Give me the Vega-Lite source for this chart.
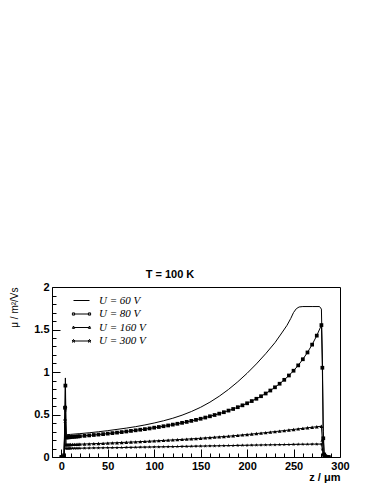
{
  "$schema": "https://vega.github.io/schema/vega-lite/v6.json",
  "autosize": {"type": "none"},
  "padding": {"left": 52, "top": 287, "right": 34, "bottom": 27},
  "width": 288,
  "height": 170,
  "background": "white",
  "title": {"text": "T = 100 K", "anchor": "middle", "dx": -26, "offset": 1, "font": "Liberation Sans", "fontSize": 11, "fontWeight": "bold", "color": "black"},
  "config": {
    "view": {"stroke": "black", "strokeWidth": 1},
    "axis": {"grid": false, "domain": false, "tickColor": "black", "tickWidth": 1, "labelColor": "black", "labelFont": "Liberation Sans", "labelFontSize": 11, "labelFontWeight": "bold", "titleColor": "black", "titleFont": "Liberation Sans", "labelOverlap": false, "labelBound": false, "labelFlush": false}
  },
  "data": {"values": [
    {"s":"U = 60 V","z":0,"m":0},{"s":"U = 60 V","z":2,"m":0},{"s":"U = 60 V","z":3,"m":0.02},{"s":"U = 60 V","z":4,"m":0.5},{"s":"U = 60 V","z":4.4,"m":0.93},{"s":"U = 60 V","z":5,"m":0.4},{"s":"U = 60 V","z":5.5,"m":0.262},{"s":"U = 60 V","z":10,"m":0.266},{"s":"U = 60 V","z":20,"m":0.275},{"s":"U = 60 V","z":30,"m":0.285},{"s":"U = 60 V","z":40,"m":0.297},{"s":"U = 60 V","z":50,"m":0.31},{"s":"U = 60 V","z":60,"m":0.325},{"s":"U = 60 V","z":70,"m":0.34},{"s":"U = 60 V","z":80,"m":0.357},{"s":"U = 60 V","z":90,"m":0.377},{"s":"U = 60 V","z":100,"m":0.4},{"s":"U = 60 V","z":110,"m":0.426},{"s":"U = 60 V","z":120,"m":0.456},{"s":"U = 60 V","z":130,"m":0.492},{"s":"U = 60 V","z":140,"m":0.535},{"s":"U = 60 V","z":150,"m":0.585},{"s":"U = 60 V","z":160,"m":0.645},{"s":"U = 60 V","z":170,"m":0.715},{"s":"U = 60 V","z":180,"m":0.795},{"s":"U = 60 V","z":190,"m":0.885},{"s":"U = 60 V","z":200,"m":0.985},{"s":"U = 60 V","z":210,"m":1.095},{"s":"U = 60 V","z":220,"m":1.215},{"s":"U = 60 V","z":230,"m":1.345},{"s":"U = 60 V","z":238,"m":1.47},{"s":"U = 60 V","z":243,"m":1.55},{"s":"U = 60 V","z":247,"m":1.63},{"s":"U = 60 V","z":250,"m":1.7},{"s":"U = 60 V","z":253,"m":1.745},{"s":"U = 60 V","z":256,"m":1.765},{"s":"U = 60 V","z":260,"m":1.77},{"s":"U = 60 V","z":270,"m":1.77},{"s":"U = 60 V","z":278,"m":1.77},{"s":"U = 60 V","z":280,"m":1.74},{"s":"U = 60 V","z":281,"m":1.2},{"s":"U = 60 V","z":282,"m":0.3},{"s":"U = 60 V","z":283,"m":0.03},{"s":"U = 60 V","z":285,"m":0},{"s":"U = 60 V","z":290,"m":0},

    {"s":"U = 80 V","z":0,"m":0},{"s":"U = 80 V","z":1,"m":0},{"s":"U = 80 V","z":2,"m":0.005},{"s":"U = 80 V","z":3,"m":0.02},{"s":"U = 80 V","z":4,"m":0.58},{"s":"U = 80 V","z":4.4,"m":0.84},{"s":"U = 80 V","z":5,"m":0.23},{"s":"U = 80 V","z":6,"m":0.231},{"s":"U = 80 V","z":7,"m":0.232},{"s":"U = 80 V","z":8,"m":0.232},{"s":"U = 80 V","z":9,"m":0.233},{"s":"U = 80 V","z":10,"m":0.235},{"s":"U = 80 V","z":12,"m":0.236},{"s":"U = 80 V","z":14,"m":0.238},{"s":"U = 80 V","z":16,"m":0.24},{"s":"U = 80 V","z":18,"m":0.242},{"s":"U = 80 V","z":20,"m":0.244},
    {"s":"U = 80 V","z":25,"m":0.249},{"s":"U = 80 V","z":30,"m":0.254},{"s":"U = 80 V","z":35,"m":0.259},{"s":"U = 80 V","z":40,"m":0.264},{"s":"U = 80 V","z":45,"m":0.269},{"s":"U = 80 V","z":50,"m":0.275},{"s":"U = 80 V","z":55,"m":0.281},{"s":"U = 80 V","z":60,"m":0.287},{"s":"U = 80 V","z":65,"m":0.293},{"s":"U = 80 V","z":70,"m":0.3},{"s":"U = 80 V","z":75,"m":0.307},{"s":"U = 80 V","z":80,"m":0.314},{"s":"U = 80 V","z":85,"m":0.321},{"s":"U = 80 V","z":90,"m":0.328},{"s":"U = 80 V","z":95,"m":0.336},{"s":"U = 80 V","z":100,"m":0.345},{"s":"U = 80 V","z":105,"m":0.353},{"s":"U = 80 V","z":110,"m":0.362},{"s":"U = 80 V","z":115,"m":0.371},{"s":"U = 80 V","z":120,"m":0.381},{"s":"U = 80 V","z":125,"m":0.391},{"s":"U = 80 V","z":130,"m":0.402},{"s":"U = 80 V","z":135,"m":0.413},{"s":"U = 80 V","z":140,"m":0.425},{"s":"U = 80 V","z":145,"m":0.437},{"s":"U = 80 V","z":150,"m":0.45},{"s":"U = 80 V","z":155,"m":0.464},{"s":"U = 80 V","z":160,"m":0.479},{"s":"U = 80 V","z":165,"m":0.494},{"s":"U = 80 V","z":170,"m":0.51},{"s":"U = 80 V","z":175,"m":0.527},{"s":"U = 80 V","z":180,"m":0.546},{"s":"U = 80 V","z":185,"m":0.565},{"s":"U = 80 V","z":190,"m":0.586},{"s":"U = 80 V","z":195,"m":0.608},{"s":"U = 80 V","z":200,"m":0.632},{"s":"U = 80 V","z":205,"m":0.658},{"s":"U = 80 V","z":210,"m":0.685},{"s":"U = 80 V","z":215,"m":0.715},{"s":"U = 80 V","z":220,"m":0.747},{"s":"U = 80 V","z":225,"m":0.782},{"s":"U = 80 V","z":230,"m":0.82},{"s":"U = 80 V","z":235,"m":0.862},{"s":"U = 80 V","z":240,"m":0.908},{"s":"U = 80 V","z":245,"m":0.959},{"s":"U = 80 V","z":250,"m":1.015},{"s":"U = 80 V","z":255,"m":1.078},{"s":"U = 80 V","z":260,"m":1.15},{"s":"U = 80 V","z":265,"m":1.23},{"s":"U = 80 V","z":270,"m":1.322},{"s":"U = 80 V","z":275,"m":1.428},{"s":"U = 80 V","z":280,"m":1.552},{"s":"U = 80 V","z":281,"m":1.05},{"s":"U = 80 V","z":282,"m":0.22},{"s":"U = 80 V","z":283,"m":0.03},{"s":"U = 80 V","z":284,"m":0.01},{"s":"U = 80 V","z":285,"m":0.003},{"s":"U = 80 V","z":286,"m":0},{"s":"U = 80 V","z":287,"m":0},{"s":"U = 80 V","z":288,"m":0},

    {"s":"U = 160 V","z":0,"m":0},{"s":"U = 160 V","z":1,"m":0},{"s":"U = 160 V","z":2,"m":0.003},{"s":"U = 160 V","z":3,"m":0.015},{"s":"U = 160 V","z":4,"m":0.45},{"s":"U = 160 V","z":4.4,"m":0.6},{"s":"U = 160 V","z":5,"m":0.145},{"s":"U = 160 V","z":6,"m":0.145},{"s":"U = 160 V","z":7,"m":0.146},{"s":"U = 160 V","z":8,"m":0.146},{"s":"U = 160 V","z":9,"m":0.146},{"s":"U = 160 V","z":10,"m":0.147},{"s":"U = 160 V","z":12,"m":0.148},{"s":"U = 160 V","z":14,"m":0.148},{"s":"U = 160 V","z":16,"m":0.149},{"s":"U = 160 V","z":18,"m":0.15},{"s":"U = 160 V","z":20,"m":0.151},
    {"s":"U = 160 V","z":25,"m":0.153},{"s":"U = 160 V","z":30,"m":0.155},{"s":"U = 160 V","z":35,"m":0.157},{"s":"U = 160 V","z":40,"m":0.159},{"s":"U = 160 V","z":45,"m":0.161},{"s":"U = 160 V","z":50,"m":0.164},{"s":"U = 160 V","z":55,"m":0.166},{"s":"U = 160 V","z":60,"m":0.168},{"s":"U = 160 V","z":65,"m":0.171},{"s":"U = 160 V","z":70,"m":0.173},{"s":"U = 160 V","z":75,"m":0.176},{"s":"U = 160 V","z":80,"m":0.178},{"s":"U = 160 V","z":85,"m":0.181},{"s":"U = 160 V","z":90,"m":0.184},{"s":"U = 160 V","z":95,"m":0.186},{"s":"U = 160 V","z":100,"m":0.189},{"s":"U = 160 V","z":105,"m":0.192},{"s":"U = 160 V","z":110,"m":0.195},{"s":"U = 160 V","z":115,"m":0.198},{"s":"U = 160 V","z":120,"m":0.201},{"s":"U = 160 V","z":125,"m":0.204},{"s":"U = 160 V","z":130,"m":0.207},{"s":"U = 160 V","z":135,"m":0.21},{"s":"U = 160 V","z":140,"m":0.214},{"s":"U = 160 V","z":145,"m":0.217},{"s":"U = 160 V","z":150,"m":0.221},{"s":"U = 160 V","z":155,"m":0.225},{"s":"U = 160 V","z":160,"m":0.229},{"s":"U = 160 V","z":165,"m":0.233},{"s":"U = 160 V","z":170,"m":0.237},{"s":"U = 160 V","z":175,"m":0.241},{"s":"U = 160 V","z":180,"m":0.245},{"s":"U = 160 V","z":185,"m":0.25},{"s":"U = 160 V","z":190,"m":0.255},{"s":"U = 160 V","z":195,"m":0.26},{"s":"U = 160 V","z":200,"m":0.265},{"s":"U = 160 V","z":205,"m":0.27},{"s":"U = 160 V","z":210,"m":0.276},{"s":"U = 160 V","z":215,"m":0.281},{"s":"U = 160 V","z":220,"m":0.287},{"s":"U = 160 V","z":225,"m":0.293},{"s":"U = 160 V","z":230,"m":0.299},{"s":"U = 160 V","z":235,"m":0.305},{"s":"U = 160 V","z":240,"m":0.311},{"s":"U = 160 V","z":245,"m":0.318},{"s":"U = 160 V","z":250,"m":0.324},{"s":"U = 160 V","z":255,"m":0.331},{"s":"U = 160 V","z":260,"m":0.337},{"s":"U = 160 V","z":265,"m":0.344},{"s":"U = 160 V","z":270,"m":0.35},{"s":"U = 160 V","z":275,"m":0.356},{"s":"U = 160 V","z":280,"m":0.362},{"s":"U = 160 V","z":281,"m":0.2},{"s":"U = 160 V","z":282,"m":0.04},{"s":"U = 160 V","z":283,"m":0.01},{"s":"U = 160 V","z":284,"m":0.003},{"s":"U = 160 V","z":285,"m":0},{"s":"U = 160 V","z":286,"m":0},{"s":"U = 160 V","z":287,"m":0},{"s":"U = 160 V","z":288,"m":0},

    {"s":"U = 300 V","z":0,"m":0},{"s":"U = 300 V","z":1,"m":0},{"s":"U = 300 V","z":2,"m":0.002},{"s":"U = 300 V","z":3,"m":0.01},{"s":"U = 300 V","z":4,"m":0.4},{"s":"U = 300 V","z":4.4,"m":0.55},{"s":"U = 300 V","z":5,"m":0.1},{"s":"U = 300 V","z":6,"m":0.1},{"s":"U = 300 V","z":7,"m":0.1},{"s":"U = 300 V","z":8,"m":0.101},{"s":"U = 300 V","z":9,"m":0.101},{"s":"U = 300 V","z":10,"m":0.101},{"s":"U = 300 V","z":12,"m":0.102},{"s":"U = 300 V","z":14,"m":0.102},{"s":"U = 300 V","z":16,"m":0.102},{"s":"U = 300 V","z":18,"m":0.103},{"s":"U = 300 V","z":20,"m":0.103},
    {"s":"U = 300 V","z":25,"m":0.104},{"s":"U = 300 V","z":30,"m":0.105},{"s":"U = 300 V","z":35,"m":0.106},{"s":"U = 300 V","z":40,"m":0.107},{"s":"U = 300 V","z":45,"m":0.108},{"s":"U = 300 V","z":50,"m":0.109},{"s":"U = 300 V","z":55,"m":0.109},{"s":"U = 300 V","z":60,"m":0.11},{"s":"U = 300 V","z":65,"m":0.111},{"s":"U = 300 V","z":70,"m":0.112},{"s":"U = 300 V","z":75,"m":0.113},{"s":"U = 300 V","z":80,"m":0.114},{"s":"U = 300 V","z":85,"m":0.115},{"s":"U = 300 V","z":90,"m":0.116},{"s":"U = 300 V","z":95,"m":0.117},{"s":"U = 300 V","z":100,"m":0.118},{"s":"U = 300 V","z":105,"m":0.119},{"s":"U = 300 V","z":110,"m":0.12},{"s":"U = 300 V","z":115,"m":0.121},{"s":"U = 300 V","z":120,"m":0.122},{"s":"U = 300 V","z":125,"m":0.123},{"s":"U = 300 V","z":130,"m":0.124},{"s":"U = 300 V","z":135,"m":0.125},{"s":"U = 300 V","z":140,"m":0.126},{"s":"U = 300 V","z":145,"m":0.127},{"s":"U = 300 V","z":150,"m":0.128},{"s":"U = 300 V","z":155,"m":0.129},{"s":"U = 300 V","z":160,"m":0.13},{"s":"U = 300 V","z":165,"m":0.131},{"s":"U = 300 V","z":170,"m":0.132},{"s":"U = 300 V","z":175,"m":0.133},{"s":"U = 300 V","z":180,"m":0.134},{"s":"U = 300 V","z":185,"m":0.135},{"s":"U = 300 V","z":190,"m":0.136},{"s":"U = 300 V","z":195,"m":0.137},{"s":"U = 300 V","z":200,"m":0.138},{"s":"U = 300 V","z":205,"m":0.139},{"s":"U = 300 V","z":210,"m":0.14},{"s":"U = 300 V","z":215,"m":0.141},{"s":"U = 300 V","z":220,"m":0.142},{"s":"U = 300 V","z":225,"m":0.143},{"s":"U = 300 V","z":230,"m":0.144},{"s":"U = 300 V","z":235,"m":0.145},{"s":"U = 300 V","z":240,"m":0.146},{"s":"U = 300 V","z":245,"m":0.147},{"s":"U = 300 V","z":250,"m":0.148},{"s":"U = 300 V","z":255,"m":0.149},{"s":"U = 300 V","z":260,"m":0.15},{"s":"U = 300 V","z":265,"m":0.15},{"s":"U = 300 V","z":270,"m":0.151},{"s":"U = 300 V","z":275,"m":0.151},{"s":"U = 300 V","z":280,"m":0.152},{"s":"U = 300 V","z":281,"m":0.09},{"s":"U = 300 V","z":282,"m":0.02},{"s":"U = 300 V","z":283,"m":0.005},{"s":"U = 300 V","z":284,"m":0},{"s":"U = 300 V","z":285,"m":0},{"s":"U = 300 V","z":286,"m":0},{"s":"U = 300 V","z":287,"m":0},{"s":"U = 300 V","z":288,"m":0}
  ]},
  "layer": [
    {
      "mark": {"type": "line", "color": "black", "strokeWidth": 1, "clip": true},
      "encoding": {
        "x": {"field": "z", "type": "quantitative", "scale": {"domain": [-10, 300], "nice": false, "zero": false},
          "axis": {
            "orient": "bottom",
            "values": [0, 50, 100, 150, 200, 250, 300],
            "format": "d",
            "tickSize": -8,
            "labelPadding": 11,
            "title": "z / μm", "titleAnchor": "end", "titleFontSize": 11, "titleFontWeight": "bold", "titlePadding": 0
          }
        },
        "y": {"field": "m", "type": "quantitative", "scale": {"domain": [0, 2], "nice": false},
          "axis": {
            "orient": "left",
            "values": [0, 0.5, 1, 1.5, 2],
            "format": "~g",
            "tickSize": -8,
            "labelPadding": 11,
            "title": "μ / m²/Vs", "titleAnchor": "end", "titleFontSize": 10, "titleFontWeight": "normal", "titlePadding": 14
          }
        },
        "detail": {"field": "s"}
      }
    },
    {
      "transform": [{"filter": "datum.s !== 'U = 60 V'"}],
      "mark": {"type": "point", "filled": true, "color": "black", "opacity": 1, "strokeWidth": 0, "clip": true},
      "encoding": {
        "x": {"field": "z", "type": "quantitative",
          "axis": {"orient": "bottom", "values": [-10,10,20,30,40,60,70,80,90,110,120,130,140,160,170,180,190,210,220,230,240,260,270,280,290], "tickSize": -4, "labels": false, "title": null}},
        "y": {"field": "m", "type": "quantitative",
          "axis": {"orient": "left", "values": [0.1,0.2,0.3,0.4,0.6,0.7,0.8,0.9,1.1,1.2,1.3,1.4,1.6,1.7,1.8,1.9], "tickSize": -4, "labels": false, "title": null}},
        "shape": {"field": "s", "type": "nominal", "legend": null,
          "scale": {"domain": ["U = 80 V", "U = 160 V", "U = 300 V"], "range": ["square", "triangle-up", "M0,-1L0.2245,-0.309L0.951,-0.309L0.3633,0.118L0.5878,0.809L0,0.382L-0.5878,0.809L-0.3633,0.118L-0.951,-0.309L-0.2245,-0.309Z"]}},
        "size": {"field": "s", "type": "nominal", "legend": null,
          "scale": {"domain": ["U = 80 V", "U = 160 V", "U = 300 V"], "range": [14, 16, 24]}}
      }
    },
    {
      "data": {"values": [{"s": "U = 60 V"}, {"s": "U = 80 V"}, {"s": "U = 160 V"}, {"s": "U = 300 V"}]},
      "mark": {"type": "point", "filled": false, "stroke": "black", "strokeWidth": 1, "opacity": 0},
      "encoding": {
        "shape": {"field": "s", "type": "nominal",
          "scale": {"domain": ["U = 60 V", "U = 80 V", "U = 160 V", "U = 300 V"],
            "range": [
              "M-4,0H4",
              "M-4,0H4M-4.55,-0.55H-3.45V0.55H-4.55ZM3.45,-0.55H4.55V0.55H3.45Z",
              "M-4,0H4M-4,-0.75L-3.45,0.45H-4.55ZM4,-0.75L4.55,0.45H3.45Z",
              "M-4,0H4M-4,-0.8L-3.82,-0.25L-3.24,-0.25L-3.71,0.1L-3.53,0.65L-4,0.3L-4.47,0.65L-4.29,0.1L-4.76,-0.25L-4.18,-0.25ZM4,-0.8L4.18,-0.25L4.76,-0.25L4.29,0.1L4.47,0.65L4,0.3L3.53,0.65L3.71,0.1L3.24,-0.25L3.82,-0.25Z"
            ]},
          "legend": {
            "title": null, "orient": "none", "legendX": 24, "legendY": 8, "padding": 0,
            "symbolSize": 16, "symbolOpacity": 1, "symbolFillColor": "black", "symbolStrokeColor": "black", "symbolStrokeWidth": 1,
            "labelOffset": 12, "labelFont": "Liberation Serif", "labelFontStyle": "italic", "labelFontSize": 11, "labelColor": "black",
            "rowPadding": 1.5
          }
        }
      }
    }
  ],
  "resolve": {"scale": {"shape": "independent", "size": "independent"}, "axis": {"x": "independent", "y": "independent"}}
}
